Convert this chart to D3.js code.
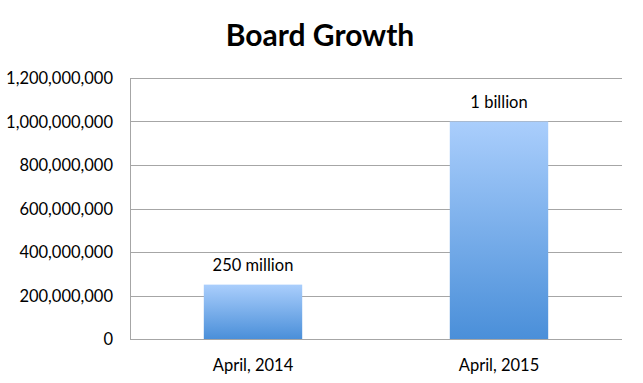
<!DOCTYPE html>
<html><head><meta charset="utf-8">
<script src="https://cdn.jsdelivr.net/npm/d3@7"></script>
<style>body{margin:0;background:#fff;} svg{display:block;}</style>
</head><body>
<svg id="chart" width="643" height="383"></svg>
<script>
const categories = ["April, 2014", "April, 2015"];
const values = [250000000, 1000000000];
const valueLabels = ["250 million", "1 billion"];
const yTicks = [0, 200000000, 400000000, 600000000, 800000000, 1000000000, 1200000000];
const title = "Board Growth";

const svg = d3.select("#chart");
const W = 643, H = 383;
const m = {left: 130, right: 21, top: 78, bottom: 44};
const font = "Lato, 'Open Sans', sans-serif";

const x = d3.scaleBand().domain(categories).range([m.left, W - m.right]).paddingInner(0.6).paddingOuter(0.3);
const y = d3.scaleLinear().domain([0, 1200000000]).range([H - m.bottom, m.top]);

const defs = svg.append("defs");
const grad = defs.append("linearGradient").attr("id", "barGrad").attr("x1", 0).attr("y1", 0).attr("x2", 0).attr("y2", 1);
grad.append("stop").attr("offset", "0%").attr("stop-color", "#aacefc");
grad.append("stop").attr("offset", "100%").attr("stop-color", "#4a8fd9");

// gridlines
svg.append("g").selectAll("line").data(yTicks.filter(d => d > 0)).join("line")
  .attr("x1", m.left).attr("x2", W - m.right)
  .attr("y1", d => Math.round(y(d)) + 0.5).attr("y2", d => Math.round(y(d)) + 0.5)
  .attr("stroke", "#a6a6a6").attr("stroke-width", 1);

// y axis
const yAxis = svg.append("g").attr("transform", `translate(${m.left},0)`)
  .call(d3.axisLeft(y).tickValues(yTicks).tickSize(0).tickPadding(17).tickFormat(d3.format(",")));
yAxis.select(".domain").attr("stroke", "#a6a6a6");
yAxis.selectAll("text").attr("font-family", font).attr("font-size", 16.5).attr("fill", "#000").attr("dy", "0.36em");

// bars
svg.append("g").selectAll("rect").data(values).join("rect")
  .attr("x", (d, i) => x(categories[i]))
  .attr("width", x.bandwidth())
  .attr("y", d => y(d))
  .attr("height", d => y(0) - y(d))
  .attr("fill", "url(#barGrad)");

// x axis baseline
svg.append("line").attr("x1", m.left).attr("x2", W - m.right)
  .attr("y1", Math.round(y(0)) + 0.5).attr("y2", Math.round(y(0)) + 0.5)
  .attr("stroke", "#a6a6a6");

// x axis labels
const xAxis = svg.append("g").attr("transform", `translate(0,${y(0)})`)
  .call(d3.axisBottom(x).tickSize(0).tickPadding(20));
xAxis.select(".domain").remove();
xAxis.selectAll("text").attr("font-family", font).attr("font-size", 16.5).attr("fill", "#000");

// value labels
svg.append("g").selectAll("text").data(values).join("text")
  .attr("x", (d, i) => x(categories[i]) + x.bandwidth() / 2)
  .attr("y", d => y(d) - 14)
  .attr("text-anchor", "middle")
  .attr("font-family", font).attr("font-size", 16.5).attr("fill", "#000")
  .text((d, i) => valueLabels[i]);

// title
svg.append("text").attr("x", 320).attr("y", 46).attr("text-anchor", "middle")
  .attr("font-family", font).attr("font-weight", "bold").attr("font-size", 30).attr("fill", "#000")
  .text(title);
</script>
</body></html>
